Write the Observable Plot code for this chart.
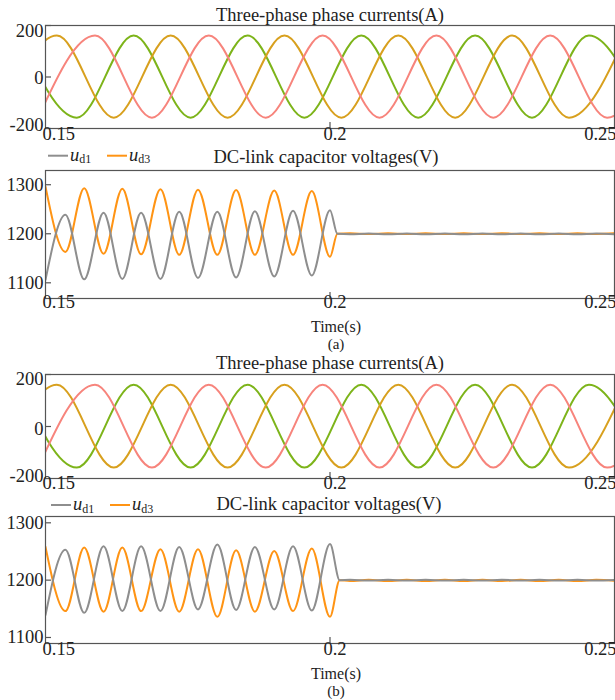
<!DOCTYPE html>
<html><head><meta charset="utf-8">
<script src="https://cdn.jsdelivr.net/npm/d3@7"></script>
<script src="https://cdn.jsdelivr.net/npm/@observablehq/plot@0.6"></script>
<style>
body{margin:0;background:#fff;}
#root{position:relative;width:615px;height:700px;overflow:hidden;font-family:"Liberation Serif","Times New Roman",serif;}
#root svg{position:absolute;left:0;}
#root svg text{font-family:"Liberation Serif","Times New Roman",serif;}
</style></head><body><div id="root"></div>
<script>
// ---------------- data ----------------
const xTickLabels = [0.15, 0.2, 0.25];
const currentTicks = [-200, 0, 200];
const dcTicks = [1100, 1200, 1300];

// Three-phase currents (A): times of successive peaks/troughs and their values
const iaTimes = [0.1420, 0.1520, 0.1620, 0.1720, 0.1820, 0.1920, 0.2020, 0.2120, 0.2220, 0.2320, 0.2420, 0.2520];
const iaValues = [-158, 161, -158, 161, -158, 161, -158, 161, -158, 161, -158, 161];
const ibTimes = [0.1455, 0.1555, 0.1655, 0.1755, 0.1855, 0.1955, 0.2055, 0.2155, 0.2255, 0.2355, 0.2455, 0.2555];
const ibValues = [161, -158, 161, -158, 161, -158, 161, -158, 161, -158, 161, -158];
const icTimes = [0.1487, 0.1587, 0.1687, 0.1787, 0.1887, 0.1987, 0.2087, 0.2187, 0.2287, 0.2387, 0.2487, 0.2587];
const icValues = [-158, 161, -158, 161, -158, 161, -158, 161, -158, 161, -158, 161];

// DC-link capacitor voltages (V), case (a)
const dcTimesA = [0.1500, 0.1535, 0.1568, 0.1602, 0.1635, 0.1668, 0.1702, 0.1735, 0.1768, 0.1802, 0.1835, 0.1868, 0.1902, 0.1935, 0.1968, 0.2000, 0.2013,
  0.2035, 0.2068, 0.2102, 0.2135, 0.2168, 0.2202, 0.2235, 0.2268, 0.2302, 0.2335, 0.2368, 0.2402, 0.2435, 0.2468, 0.2502];
const ud1A = [1106, 1239, 1107, 1243, 1108, 1243, 1108, 1245, 1110, 1245, 1111, 1246, 1113, 1247, 1115, 1248, 1200,
  1199, 1200.5, 1199, 1200.5, 1199, 1200.5, 1199, 1200.5, 1199, 1200.5, 1199, 1200.5, 1199, 1200.5, 1199];
const ud3A = [1296, 1163, 1293, 1159, 1292, 1158, 1291, 1157, 1290, 1157, 1289, 1157, 1288, 1157, 1287, 1153, 1200,
  1201, 1199.5, 1201, 1199.5, 1201, 1199.5, 1201, 1199.5, 1201, 1199.5, 1201, 1199.5, 1201, 1199.5, 1201];

// DC-link capacitor voltages (V), case (b)
const dcTimesB = [0.1500, 0.1535, 0.1568, 0.1602, 0.1635, 0.1668, 0.1702, 0.1735, 0.1768, 0.1802, 0.1835, 0.1868, 0.1902, 0.1935, 0.1968, 0.2000, 0.2017,
  0.2035, 0.2068, 0.2102, 0.2135, 0.2168, 0.2202, 0.2235, 0.2268, 0.2302, 0.2335, 0.2368, 0.2402, 0.2435, 0.2468, 0.2502];
const ud1B = [1139, 1253, 1143, 1259, 1146, 1259, 1146, 1258, 1149, 1262, 1148, 1258, 1149, 1259, 1147, 1263, 1200,
  1200.5, 1199.5, 1200.5, 1199.5, 1200.5, 1199.5, 1200.5, 1199.5, 1200.5, 1199.5, 1200.5, 1199.5, 1200.5, 1199.5, 1200.5];
const ud3B = [1258, 1146, 1257, 1145, 1257, 1146, 1254, 1145, 1254, 1136, 1252, 1145, 1251, 1146, 1255, 1136, 1200,
  1198.5, 1200.5, 1198.5, 1200.5, 1198.5, 1200.5, 1198.5, 1200.5, 1198.5, 1200.5, 1198.5, 1200.5, 1198.5, 1200.5, 1198.5];

// ---------------- styles ----------------
const C = {ia: "#D8A01E", ib: "#7DB41A", ic: "#F7847C", ud1: "#8E8E8E", ud3: "#FF9414", axis: "#555", text: "#222"};
const FONT = "Liberation Serif, Times New Roman, serif";
const W = 615, ML = 45, MR = 1;

const zip = (ts, vs) => ts.map((t, i) => ({t, v: vs[i]}));

function panel({top, frameH, domain, lines, yTicks, yLabels, xdy}) {
  const mt = 12, mb = 28;
  const fw = W - ML - MR;
  const marks = [];
  for (const l of lines) {
    marks.push(Plot.line(zip(l.t, l.v), {x: "t", y: "v", stroke: l.color, strokeWidth: 2, curve: "monotone-x", clip: true}));
  }
  marks.push(Plot.frame({stroke: C.axis, strokeWidth: 1.2}));
  marks.push(Plot.tickY(yTicks, {y: d => d, insetRight: fw - 6, stroke: C.axis, strokeWidth: 1.2}));
  marks.push(Plot.tickX([0.2], {x: d => d, insetTop: frameH - 6, stroke: C.axis, strokeWidth: 1.2}));
  for (const [v, dy] of yLabels) {
    marks.push(Plot.text([v], {y: d => d, text: d => String(d), frameAnchor: "left", textAnchor: "end", dx: -2, dy,
      fontSize: 18.5, fontFamily: FONT, fill: C.text}));
  }
  const xl = [[xTickLabels[0], "start", -3], [xTickLabels[1], "middle", 5], [xTickLabels[2], "end", 2]];
  for (const [v, anchor, dx] of xl) {
    marks.push(Plot.text([v], {x: d => d, text: d => String(d), frameAnchor: "bottom", textAnchor: anchor, dx, dy: xdy,
      fontSize: 18.5, fontFamily: FONT, fill: C.text}));
  }
  const svg = Plot.plot({
    width: W, height: mt + frameH + mb,
    marginLeft: ML, marginRight: MR, marginTop: mt, marginBottom: mb,
    x: {domain: [0.15, 0.25], axis: null},
    y: {domain, axis: null},
    style: {background: "transparent", overflow: "visible", fontFamily: FONT},
    marks
  });
  svg.style.top = (top - mt) + "px";
  document.getElementById("root").appendChild(svg);
}

const currentLines = [
  {t: ibTimes, v: ibValues, color: C.ib},
  {t: iaTimes, v: iaValues, color: C.ia},
  {t: icTimes, v: icValues, color: C.ic}
];

panel({top: 25, frameH: 103, domain: [-200, 200], lines: currentLines, yTicks: currentTicks,
  yLabels: [[200, 6], [0, 1.5], [-200, -3.5]], xdy: 11});
panel({top: 170, frameH: 128, domain: [1068, 1329],
  lines: [{t: dcTimesA, v: ud3A, color: C.ud3}, {t: dcTimesA, v: ud1A, color: C.ud1}],
  yTicks: dcTicks, yLabels: dcTicks.map(v => [v, 0]), xdy: 9.5});
panel({top: 374, frameH: 104, domain: [-200, 200], lines: currentLines, yTicks: currentTicks,
  yLabels: [[200, 4.5], [0, 2.5], [-200, -2]], xdy: 10.5});
panel({top: 516, frameH: 127, domain: [1089.5, 1311],
  lines: [{t: dcTimesB, v: ud3B, color: C.ud3}, {t: dcTimesB, v: ud1B, color: C.ud1}],
  yTicks: dcTicks, yLabels: dcTicks.map(v => [v, 0]), xdy: 11.3});

// ---------------- titles, legends, captions ----------------
const ov = d3.select("#root").append("svg")
  .attr("width", W).attr("height", 700).style("top", "0px")
  .attr("font-family", FONT).attr("fill", C.text);

const titles = [
  {x: 330, y: 21, s: "Three-phase phase currents(A)", f: 18.5},
  {x: 326, y: 163.3, s: "DC-link capacitor voltages(V)", f: 18.5},
  {x: 330, y: 369, s: "Three-phase phase currents(A)", f: 18.5},
  {x: 329, y: 510, s: "DC-link capacitor voltages(V)", f: 18.5},
  {x: 336, y: 332, s: "Time(s)", f: 16},
  {x: 336, y: 349, s: "(a)", f: 15},
  {x: 336, y: 679, s: "Time(s)", f: 16},
  {x: 336, y: 696, s: "(b)", f: 15}
];
for (const t of titles) {
  ov.append("text").attr("x", t.x).attr("y", t.y).attr("text-anchor", "middle").attr("font-size", t.f).text(t.s);
}

const legendNames = [["u", "d1"], ["u", "d3"]];
function legend(x0, x1, y) {
  [[x0, C.ud1, legendNames[0]], [x1, C.ud3, legendNames[1]]].forEach(([x, col, [main, sub]]) => {
    ov.append("line").attr("x1", x).attr("x2", x + 20).attr("y1", y - 5).attr("y2", y - 5)
      .attr("stroke", col).attr("stroke-width", 2);
    const tx = ov.append("text").attr("x", x + 22).attr("y", y).attr("font-size", 18.5);
    tx.append("tspan").attr("font-style", "italic").text(main);
    tx.append("tspan").attr("font-size", 12).attr("dy", 2.5).text(sub);
  });
}
legend(48, 107, 160.7);
legend(51, 110, 510);
</script>
</body></html>
